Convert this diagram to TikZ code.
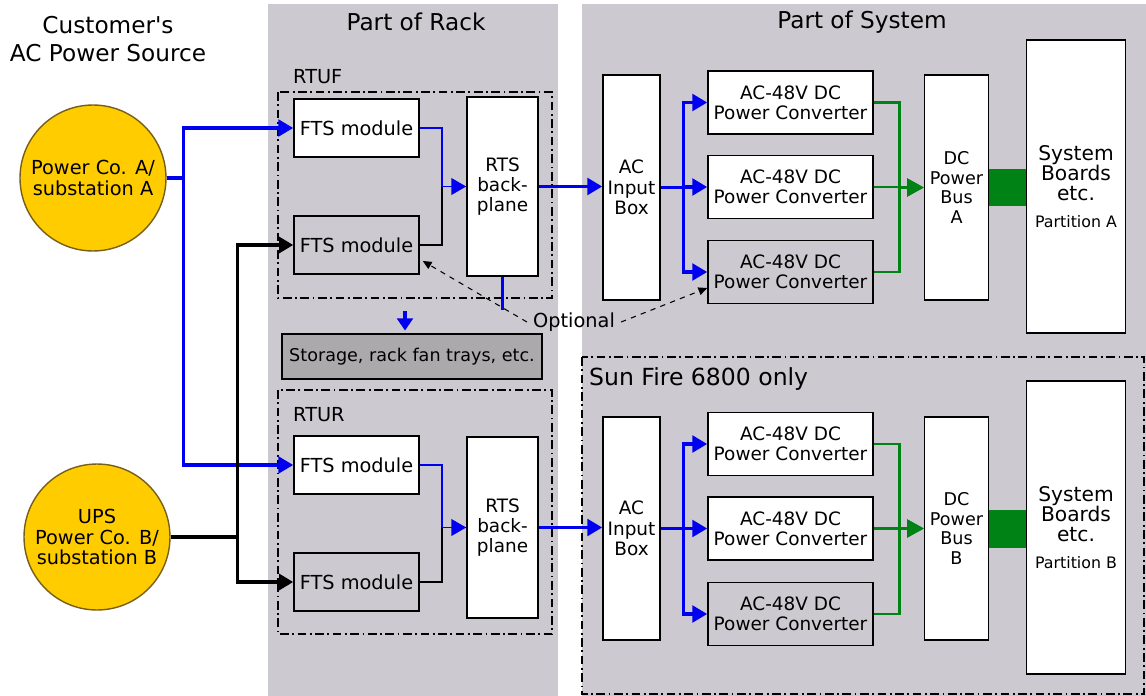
\documentclass[tikz,border=0pt]{standalone}
\usepackage{fontspec}
\setmainfont{DejaVu Sans}
\usetikzlibrary{arrows.meta, positioning}
\definecolor{panelgray}{RGB}{205,201,208}
\definecolor{storegray}{RGB}{171,169,172}
\definecolor{srcyellow}{RGB}{255,204,0}
\definecolor{srcedge}{RGB}{120,95,25}
\definecolor{feedblue}{RGB}{0,0,240}
\definecolor{busgreen}{RGB}{0,130,20}
\newcommand{\powerLink}[4]
{
	\draw[#1] (#4.east) -- +(#2,0) |- (#3.west)
}

\begin{document}
\begin{tikzpicture}[x=0.02cm, y=-0.02cm,
			blk/.style={draw=black, line width=0.9pt, fill=white, inner sep=0,
				align=center, font=\fontsize{10.5}{11.6}\selectfont},
			fts/.style={blk, minimum width=2.5cm, minimum height=1.16cm,
				font=\fontsize{11}{12}\selectfont},
			ftsg/.style={fts, fill=panelgray},
			tall/.style={blk, minimum width=1.14cm, minimum height=4.5cm},
			conv/.style={blk, minimum width=3.3cm, minimum height=1.26cm},
			convg/.style={conv, fill=panelgray},
			supply/.style={shape=circle, draw=srcedge, line width=0.8pt, fill=srcyellow,
				minimum size=2.92cm, inner sep=0, align=center,
				font=\fontsize{11}{11.6}\selectfont},
			heading/.style={align=center, font=\fontsize{13.2}{15.5}\selectfont},
			rtubox/.style={draw=black, line width=0.7pt,
				dash pattern=on 5pt off 2pt on 1pt off 2pt},
			feed/.style={draw=feedblue, line width=1.9pt,
				-{Triangle[length=8.5pt,width=9.5pt]}},
			thinfeed/.style={draw=feedblue, line width=1pt,
				-{Triangle[length=8.5pt,width=9.5pt]}},
			altfeed/.style={draw=black, line width=1.9pt,
				-{Triangle[length=8pt,width=9pt]}},
			thinalt/.style={draw=black, line width=1pt},
			dcfeed/.style={draw=busgreen, line width=1.5pt,
				-{Triangle[length=9.5pt,width=10pt]}},
			optarrow/.style={draw=black, line width=0.6pt, dashed,
				-{Triangle[length=5pt,width=4.5pt]}}]

			\useasboundingbox (0,0) rectangle (1146,696);
			% panels
			\fill[panelgray] (268,4) rectangle (558,696);
			\fill[panelgray] (582,4) rectangle (1146,696);
			\draw[rtubox] (278,92) rectangle (552,298);
			\draw[rtubox] (278,390) rectangle (552,634);
			\draw[rtubox] (582,357) rectangle (1144,694);

			\node[heading] at (108,39) (T1){Customer\textquotesingle s\\AC Power Source};
			\node[heading] at (416,22) (T2){Part of Rack};
			\node[heading] at (862,22) (T3){Part of System};
			\node[anchor=west, font=\fontsize{11}{12}\selectfont] at (287,77) (L1){RTUF};
			\node[anchor=west, font=\fontsize{11}{12}\selectfont] at (287,415) (L2){RTUR};
			\node[anchor=west, font=\fontsize{13.4}{15}\selectfont] at (583,379) (L3){Sun Fire 6800 only};

			% sources
			\node[supply] at (93,178) (SrcA){Power Co. A/\\substation A};
			\node[supply] at (97,537) (SrcB){UPS\\Power Co. B/\\substation B};

			% rack
			\node[fts] at (356.5,128) (FA1){FTS module};
			\node[ftsg] at (356.5,245) (FA2){FTS module};
			\node[fts] at (356.5,465) (FB1){FTS module};
			\node[ftsg] at (356.5,582) (FB2){FTS module};
			\node[blk, minimum width=1.42cm, minimum height=3.58cm] at (502.5,186.5) (BPA){RTS\\back-\\plane};
			\node[blk, minimum width=1.42cm, minimum height=3.62cm] at (502.5,527.5) (BPB){RTS\\back-\\plane};
			\node[blk, fill=storegray, minimum width=5.2cm, minimum height=0.9cm,
				font=\fontsize{10}{11}\selectfont] at (412,356.5) (Sto){Storage, rack fan trays, etc.};

			% system
			\node[tall] at (631.5,187.5) (ACA){AC\\Input\\Box};
			\node[tall, minimum height=4.46cm] at (631.5,528.5) (ACB){AC\\Input\\Box};
			\node[conv] at (790.5,102.5) (CA1){AC-48V DC\\Power Converter};
			\node[conv] at (790.5,187) (CA2){AC-48V DC\\Power Converter};
			\node[convg] at (790.5,272) (CA3){AC-48V DC\\Power Converter};
			\node[conv] at (790.5,444) (CB1){AC-48V DC\\Power Converter};
			\node[conv] at (790.5,528.5) (CB2){AC-48V DC\\Power Converter};
			\node[convg] at (790.5,614) (CB3){AC-48V DC\\Power Converter};
			\node[tall, minimum width=1.28cm, font=\fontsize{10}{11.3}\selectfont] at (956.5,187.5) (BusA){DC\\Power\\Bus\\A};
			\node[tall, minimum width=1.28cm, minimum height=4.46cm, font=\fontsize{10}{11.3}\selectfont] at (956.5,528.5) (BusB){DC\\Power\\Bus\\B};
			\node[blk, minimum width=1.98cm, minimum height=5.86cm, font=\fontsize{11.5}{11.5}\selectfont]
				at (1076,186.5) (SBA){System\\Boards\\etc.\\[4pt]{\fontsize{9}{10}\selectfont Partition A}};
			\node[blk, minimum width=1.98cm, minimum height=5.86cm, font=\fontsize{11.5}{11.5}\selectfont]
				at (1076,527.5) (SBB){System\\Boards\\etc.\\[4pt]{\fontsize{9}{10}\selectfont Partition B}};
			\node[font=\fontsize{11}{12}\selectfont] at (574,322) (Opt){Optional};

			% AC feeds
			\powerLink{feed}{17}{FA1}{SrcA};
			\powerLink{feed}{17}{FB1}{SrcA};
			\powerLink{altfeed}{67}{FA2}{SrcB};
			\powerLink{altfeed}{67}{FB2}{SrcB};

			\powerLink{thinalt}{22}{BPA}{FA2};
			\powerLink{thinfeed}{22}{BPA}{FA1};
			\powerLink{thinalt}{22}{BPB}{FB2};
			\powerLink{thinfeed}{22}{BPB}{FB1};

			\draw[feed] (BPA.east) -- (BPA.east -| ACA.west);
			\draw[feed] (BPB.east) -- (BPB.east -| ACB.west);

			\coordinate (stubA) at ([yshift=-0.66cm]BPA.south);
			\draw[feedblue, line width=1.9pt] (BPA.south) -- (stubA);
			\coordinate (stoTap) at (405,311);
			\draw[feed, -{Triangle[length=7pt,width=9pt]}, shorten >=1.5pt] (stoTap) -- (stoTap |- Sto.north);

			\draw[optarrow] (Opt.west) -- ([shift={(3,16)}]FA2.east);
			\draw[optarrow] (Opt.east) -- ([yshift=-0.32cm]CA3.west);

			% converters
			\foreach \c in {CA1,CA2,CA3}
				\powerLink{feed}{23}{\c}{ACA};
			\foreach \c in {CB1,CB2,CB3}
				\powerLink{feed}{23}{\c}{ACB};
			\foreach \c in {CA1,CA2,CA3}
				\powerLink{dcfeed}{26}{BusA}{\c};
			\foreach \c in {CB1,CB2,CB3}
				\powerLink{dcfeed}{26}{BusB}{\c};

			\draw[busgreen, line width=0.76cm] (BusA.east) -- (BusA.east -| SBA.west);
			\draw[busgreen, line width=0.76cm] (BusB.east) -- (BusB.east -| SBB.west);
		\end{tikzpicture}
\end{document}
